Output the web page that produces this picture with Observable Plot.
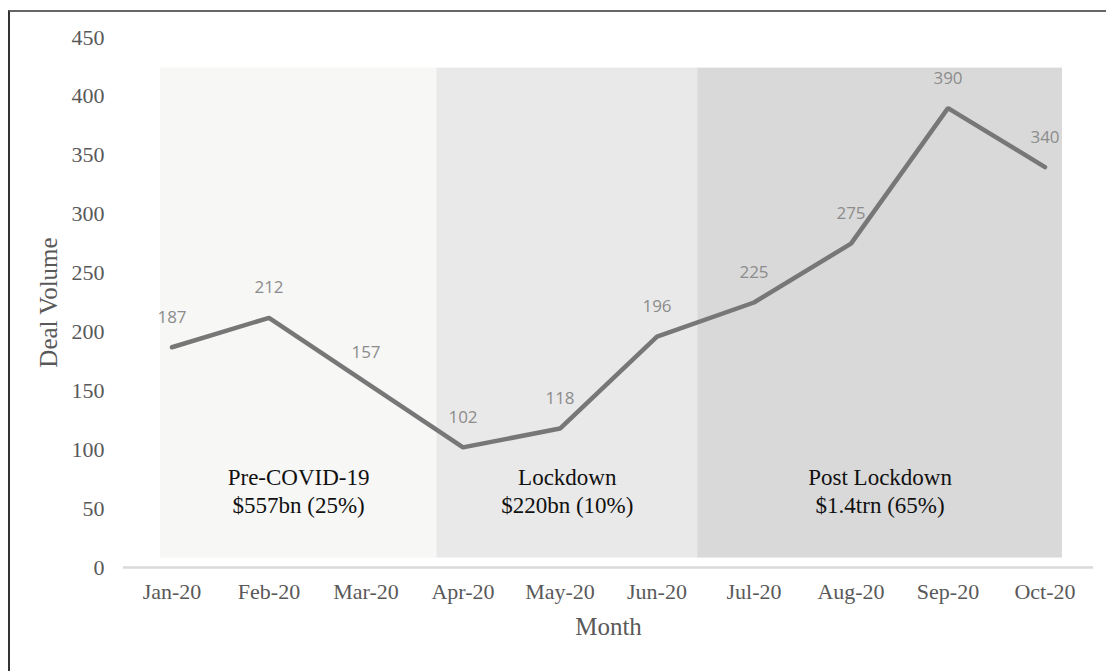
<!DOCTYPE html>
<html>
<head>
<meta charset="utf-8">
<script src="https://cdn.jsdelivr.net/npm/d3@7"></script>
<script src="https://cdn.jsdelivr.net/npm/@observablehq/plot@0.6"></script>
<style>
  html, body { margin: 0; padding: 0; background: #fff; overflow: hidden; }
  #frame { position: absolute; left: 8px; top: 10px; width: 1200px; height: 800px;
           border-left: 2px solid #333; border-top: 2px solid #666; box-sizing: border-box; }
  #chart { position: absolute; left: 0; top: 0; }
</style>
</head>
<body>
<div id="frame"></div>
<div id="chart"></div>
<script>
// Data
const months = ["Jan-20","Feb-20","Mar-20","Apr-20","May-20","Jun-20","Jul-20","Aug-20","Sep-20","Oct-20"];
const dealVolume = [187, 212, 157, 102, 118, 196, 225, 275, 390, 340];
const yTicks = [0, 50, 100, 150, 200, 250, 300, 350, 400, 450];

// Shaded periods (x in month-index units, y in deal-volume units)
const periodNames = ["Pre-COVID-19", "Lockdown", "Post Lockdown"];
const periodValues = ["$557bn (25%)", "$220bn (10%)", "$1.4trn (65%)"];
const periodStart = [-0.12, 2.73, 5.42];
const periodEnd = [2.73, 5.42, 9.18];
const periodColors = ["#f7f7f6", "#e9e9e9", "#d9d9d9"];
const shadeBottom = 8, shadeTop = 424, periodLabelY = 66;

const points = months.map((m, i) => ({i, month: m, value: dealVolume[i]}));
const periods = periodNames.map((n, k) => ({
  name: n, value: periodValues[k], x1: periodStart[k], x2: periodEnd[k],
  color: periodColors[k], label: n + "\n" + periodValues[k],
  xm: (periodStart[k] + periodEnd[k]) / 2
}));

const serif = "'Liberation Serif', 'DejaVu Serif', serif";

const chart = Plot.plot({
  width: 1106,
  height: 660,
  marginLeft: 123,
  marginRight: 13,
  marginTop: 37,
  marginBottom: 93,
  style: {fontFamily: serif, fontSize: "22px", background: "transparent", overflow: "visible"},
  x: {type: "linear", domain: [-0.5, 9.5]},
  y: {domain: [0, 450]},
  marks: [
    Plot.rect(periods, {x1: "x1", x2: "x2", y1: shadeBottom, y2: shadeTop, fill: d => d.color}),
    Plot.ruleY([0], {stroke: "#d9d9d9", strokeWidth: 2.5}),
    Plot.axisY({ticks: yTicks, tickSize: 0, tickPadding: 19, fill: "#595959", fontSize: 22, label: null}),
    Plot.axisY({ticks: [], tickSize: 0, fill: "#595959", fontSize: 25,
                label: "Deal Volume", labelAnchor: "center", labelArrow: false, labelOffset: 84}),
    Plot.axisX({ticks: d3.range(months.length), tickFormat: i => months[i], tickSize: 0, tickPadding: 16,
                fill: "#595959", fontSize: 22, label: null}),
    Plot.axisX({ticks: [], tickSize: 0, fill: "#595959", fontSize: 25,
                label: "Month", labelAnchor: "center", labelArrow: false, labelOffset: 67}),
    Plot.line(points, {x: "i", y: "value", stroke: "#777777", strokeWidth: 4.5, strokeLinejoin: "miter", strokeLinecap: "round"}),
    Plot.text(points, {x: "i", y: "value", text: d => String(d.value), dy: -30,
                       fill: "#8c8c8c", fontFamily: "'Open Sans', 'Noto Sans', sans-serif", fontSize: 17}),
    Plot.text(periods, {x: "xm", y: periodLabelY, text: "label", fill: "#111111",
                        fontFamily: serif, fontSize: 23, lineHeight: 1.22, lineAnchor: "middle"})
  ]
});
document.getElementById("chart").appendChild(chart);
</script>
</body>
</html>
